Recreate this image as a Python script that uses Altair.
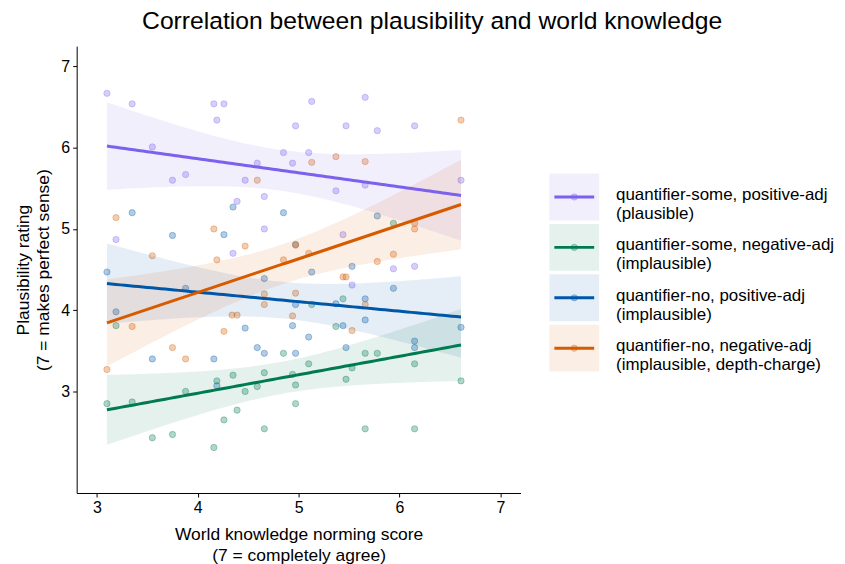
import altair as alt
import numpy as np
import pandas as pd

FONT = "Liberation Sans"

series = ["some-pos", "some-neg", "no-pos", "no-neg"]
legend_labels = [
    "quantifier-some, positive-adj\n(plausible)",
    "quantifier-some, negative-adj\n(implausible)",
    "quantifier-no, positive-adj\n(implausible)",
    "quantifier-no, negative-adj\n(implausible, depth-charge)",
]
line_colors = ["#7B61EE", "#007A50", "#0057A8", "#D65A00"]

purple_x = [3.10, 3.35, 4.16, 4.26, 4.19, 3.55, 3.75, 3.88, 4.47, 4.59, 4.66, 4.39, 5.13, 5.66, 4.97, 5.47,
            5.78, 6.15, 4.85, 5.10, 4.94, 6.61, 5.37, 5.66, 3.19, 4.66, 4.35, 5.44, 5.94, 6.15, 5.53]
purple_y = [6.67, 6.54, 6.54, 6.54, 6.34, 6.01, 5.60, 5.67, 5.60, 5.81, 5.40, 5.34, 6.57, 6.62, 6.27, 6.27,
            6.21, 6.27, 5.94, 5.94, 5.81, 5.60, 5.47, 5.54, 4.87, 5.00, 4.70, 4.93, 4.51, 4.54, 4.31]

green_x = [3.19, 3.10, 3.35, 3.88, 4.19, 4.35, 4.66, 4.59, 4.47, 4.39, 4.26, 3.55, 3.75, 4.16, 4.66, 5.37,
           4.85, 5.10, 5.66, 5.78, 5.53, 6.15, 4.94, 4.97, 5.47, 6.61, 4.97, 5.66, 6.15, 5.94, 5.13, 5.44]
green_y = [3.81, 2.85, 2.87, 3.00, 3.13, 3.20, 3.23, 3.06, 3.00, 2.77, 2.65, 2.43, 2.47, 2.31, 2.54, 3.80,
           3.47, 3.34, 3.47, 3.47, 3.29, 3.34, 3.21, 3.08, 3.15, 3.13, 2.85, 2.54, 2.54, 5.07, 4.07, 4.14]

blue_x = [3.35, 4.35, 3.75, 4.26, 3.10, 3.88, 4.66, 3.19, 4.47, 4.85, 5.78, 5.13, 5.53, 5.94, 4.97, 5.37,
          5.66, 5.66, 4.94, 5.44, 6.61, 4.59, 4.66, 3.55, 4.16, 4.19, 5.10, 4.97, 5.47, 6.15, 6.15, 4.97]
blue_y = [5.20, 5.27, 4.92, 4.93, 4.47, 4.27, 4.39, 3.98, 3.78, 5.20, 5.16, 4.47, 4.54, 4.27, 4.07, 4.08,
          4.14, 3.88, 3.81, 3.81, 3.79, 3.54, 3.47, 3.40, 3.40, 3.07, 3.67, 3.47, 3.54, 3.62, 3.54, 4.81]

orange_x = [4.59, 6.61, 5.13, 5.37, 5.66, 3.19, 3.55, 4.16, 4.47, 4.19, 4.66, 4.66, 4.34, 4.39, 3.35, 4.97,
            4.85, 5.10, 5.78, 5.94, 6.15, 6.15, 5.44, 5.47, 4.97, 5.66, 4.94, 5.53, 4.26, 3.75, 3.88, 3.10]
orange_y = [5.60, 6.34, 5.82, 5.89, 5.83, 5.14, 4.67, 5.00, 4.79, 4.62, 4.20, 4.07, 3.94, 3.94, 3.80, 4.80,
            4.62, 4.70, 4.60, 4.69, 5.07, 5.00, 4.41, 4.41, 4.21, 4.07, 3.93, 3.75, 3.74, 3.54, 3.40, 3.27]

xs_all = [purple_x, green_x, blue_x, orange_x]
ys_all = [purple_y, green_y, blue_y, orange_y]

x_ticks = [3, 4, 5, 6, 7]
y_ticks = [3, 4, 5, 6, 7]

# ---- points table
rows = []
for s, xs, ys in zip(series, xs_all, ys_all):
    for xv, yv in zip(xs, ys):
        rows.append({"series": s, "x": xv, "y": yv})
pts = pd.DataFrame(rows)

# ---- linear fit with 95% confidence band (as geom_smooth(method="lm"))
T975 = {28: 2.048, 29: 2.045, 30: 2.042, 31: 2.040}
fit_rows = []
for s, xs, ys in zip(series, xs_all, ys_all):
    x = np.array(xs)
    y = np.array(ys)
    n = len(x)
    b, a = np.polyfit(x, y, 1)
    resid = y - (a + b * x)
    s_err = np.sqrt(np.sum(resid ** 2) / (n - 2))
    xbar = x.mean()
    sxx = np.sum((x - xbar) ** 2)
    grid = np.linspace(x.min(), x.max(), 80)
    fit = a + b * grid
    se = s_err * np.sqrt(1.0 / n + (grid - xbar) ** 2 / sxx)
    t = T975.get(n - 2, 2.04)
    for g, f, e in zip(grid, fit, se):
        fit_rows.append({"series": s, "x": g, "fit": f, "lo": f - t * e, "hi": f + t * e})
fits = pd.DataFrame(fit_rows)

xscale = alt.Scale(domain=[2.8, 7.2], nice=False, zero=False)
yscale = alt.Scale(domain=[1.75, 7.25], nice=False, zero=False)
cscale = alt.Scale(domain=series, range=line_colors)

xaxis = alt.Axis(values=x_ticks, format="d", grid=False,
                 title=["World knowledge norming score", "(7 = completely agree)"],
                 titlePadding=10)
yaxis = alt.Axis(values=y_ticks, format="d", grid=False,
                 title=["Plausibility rating", "(7 = makes perfect sense)"],
                 titlePadding=8)

points = alt.Chart(pts).mark_point(shape="circle", size=40, fillOpacity=0.3,
                                   strokeOpacity=0.32, strokeWidth=1).encode(
    x=alt.X("x:Q", scale=xscale, axis=xaxis),
    y=alt.Y("y:Q", scale=yscale, axis=yaxis),
    fill=alt.Fill("series:N", scale=cscale, legend=None),
    stroke=alt.Stroke("series:N", scale=cscale, legend=None),
)

bands = alt.Chart(fits).mark_area(fillOpacity=0.1).encode(
    x=alt.X("x:Q", scale=xscale),
    y=alt.Y("lo:Q", scale=yscale),
    y2="hi:Q",
    fill=alt.Fill("series:N", scale=cscale, legend=None),
)

lines = alt.Chart(fits).mark_line(strokeWidth=3).encode(
    x=alt.X("x:Q", scale=xscale),
    y=alt.Y("fit:Q", scale=yscale),
    stroke=alt.Stroke("series:N", scale=cscale, legend=None),
)

main = alt.layer(points, bands, lines).properties(width=446, height=449)

# ---- custom legend panel
leg = pd.DataFrame({"series": series, "label": legend_labels})
lscale = alt.Scale(domain=series, paddingInner=0.07, paddingOuter=0, range=[128, 327])

box = alt.Chart(leg).mark_rect(fillOpacity=0.1).encode(
    y=alt.Y("series:N", scale=lscale, axis=None),
    x=alt.value(0), x2=alt.value(50),
    fill=alt.Fill("series:N", scale=cscale, legend=None),
)
key_line = alt.Chart(leg).mark_rule(strokeWidth=3).encode(
    y=alt.Y("series:N", scale=lscale, axis=None, bandPosition=0.5),
    x=alt.value(5), x2=alt.value(45),
    stroke=alt.Stroke("series:N", scale=cscale, legend=None),
)
key_pt = alt.Chart(leg).mark_point(shape="circle", size=40, fillOpacity=0.3,
                                   strokeOpacity=0.32, strokeWidth=1).encode(
    y=alt.Y("series:N", scale=lscale, axis=None, bandPosition=0.5),
    x=alt.value(25),
    fill=alt.Fill("series:N", scale=cscale, legend=None),
    stroke=alt.Stroke("series:N", scale=cscale, legend=None),
)
key_txt = alt.Chart(leg).mark_text(align="left", baseline="middle", lineBreak="\n",
                                   fontSize=17, lineHeight=19, dy=-2, font=FONT,
                                   color="black").encode(
    y=alt.Y("series:N", scale=lscale, axis=None, bandPosition=0.5),
    x=alt.value(67),
    text="label:N",
)
legend_panel = alt.layer(box, key_line, key_pt, key_txt).properties(width=280, height=449)

chart = alt.hconcat(main, legend_panel, spacing=29).properties(
    title=alt.TitleParams(
        text="Correlation between plausibility and world knowledge",
        fontSize=24.8, fontWeight="normal", anchor="middle", font=FONT,
        color="black", offset=12, dx=8,
    ),
    padding={"left": 6, "top": 0, "right": 2, "bottom": 3},
).configure_view(stroke=None).configure_axis(
    domainColor="black", domainWidth=1, tickColor="black", tickSize=4, tickWidth=1,
    labelColor="black", labelFontSize=16, labelFont=FONT, labelPadding=3,
    titleColor="black", titleFontSize=17.5, titleFont=FONT, titleFontWeight="normal",
    titleLineHeight=21,
)

chart.save("out.html", embed_options={"renderer": "svg", "actions": False})
